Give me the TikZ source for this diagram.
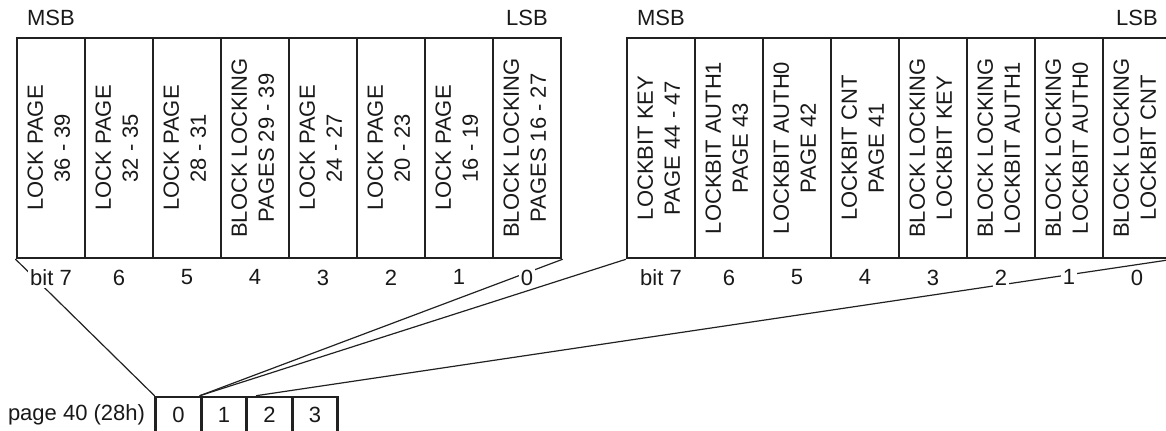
\documentclass[tikz,border=0pt]{standalone}
\usepackage{fontspec}
\setmainfont{Liberation Sans}
\usetikzlibrary{positioning,calc}
\definecolor{regline}{rgb}{0.13,0.13,0.13}
\definecolor{regtext}{rgb}{0.1,0.1,0.1}
\newcommand{\celltext}[2]{\rotatebox{90}{\begin{tabular}{@{}c@{}}#1\\#2\end{tabular}}}

\begin{document}
\begin{tikzpicture}[line cap=round,line join=miter,x=0.5pt,y=-0.5pt,
    font=\fontsize{11}{13.5}\selectfont,text=regtext,
    cell/.style={draw=regline,line width=1.35pt,minimum width=34pt,minimum height=110pt,inner sep=0pt},
    pagecell/.style={draw=regline,line width=1.35pt,minimum width=22.75pt,minimum height=18pt,inner sep=0pt},
    bitlabel/.style={fill=white,inner sep=1pt},
    endlabel/.style={inner sep=1pt},
    link/.style={line width=0.6pt,draw=regline}]
    \useasboundingbox (0,0) rectangle (1166,430);
    \node[cell] (l7) at (51,148) {\celltext{LOCK PAGE}{36 - 39}};
    \node[cell] (l6) at (119,148) {\celltext{LOCK PAGE}{32 - 35}};
    \node[cell] (l5) at (187,148) {\celltext{LOCK PAGE}{28 - 31}};
    \node[cell] (l4) at (255,148) {\celltext{BLOCK LOCKING}{PAGES 29 - 39}};
    \node[cell] (l3) at (323,148) {\celltext{LOCK PAGE}{24 - 27}};
    \node[cell] (l2) at (391,148) {\celltext{LOCK PAGE}{20 - 23}};
    \node[cell] (l1) at (459,148) {\celltext{LOCK PAGE}{16 - 19}};
    \node[cell] (l0) at (527,148) {\celltext{BLOCK LOCKING}{PAGES 16 - 27}};
    \node[cell] (r7) at (661,148) {\celltext{LOCKBIT KEY}{PAGE 44 - 47}};
    \node[cell] (r6) at (729,148) {\celltext{LOCKBIT AUTH1}{PAGE 43}};
    \node[cell] (r5) at (797,148) {\celltext{LOCKBIT AUTH0}{PAGE 42}};
    \node[cell] (r4) at (865,148) {\celltext{LOCKBIT CNT}{PAGE 41}};
    \node[cell] (r3) at (933,148) {\celltext{BLOCK LOCKING}{LOCKBIT KEY}};
    \node[cell] (r2) at (1001,148) {\celltext{BLOCK LOCKING}{LOCKBIT AUTH1}};
    \node[cell] (r1) at (1069,148) {\celltext{BLOCK LOCKING}{LOCKBIT AUTH0}};
    \node[cell] (r0) at (1137,148) {\celltext{BLOCK LOCKING}{LOCKBIT CNT}};
    \node[endlabel,above=4.5pt of l7] (lmsb) {MSB};
    \node[endlabel,above=4.5pt of l0] (llsb) {LSB};
    \node[endlabel,above=4.5pt of r7] (rmsb) {MSB};
    \node[endlabel,above=4.5pt of r0] (rlsb) {LSB};
    \node[pagecell] (p0) at (178.5,415) {0};
    \node[pagecell] (p1) at (224,415) {1};
    \node[pagecell] (p2) at (269.5,415) {2};
    \node[pagecell] (p3) at (315,415) {3};
    \node[inner sep=0pt,left=4.5pt of p0] (pagename) {page 40 (28h)};
    \coordinate (p2tap) at ($(p2.north west)+(11,0)$);
    \draw [link] (l7.south west) -- (p0.north west);
    \draw [link] (l0.south east) -- (p1.north west);
    \draw [link] (r7.south west) -- (p1.north west);
    \draw [link] (r0.south east) -- (p2tap);
    \node[bitlabel,below=4pt of l7] (lb7) {bit 7};
    \node[bitlabel,below=4pt of l6] (lb6) {6};
    \node[bitlabel,below=4pt of l5] (lb5) {5};
    \node[bitlabel,below=4pt of l4] (lb4) {4};
    \node[bitlabel,below=4pt of l3] (lb3) {3};
    \node[bitlabel,below=4pt of l2] (lb2) {2};
    \node[bitlabel,below=4pt of l1] (lb1) {1};
    \node[bitlabel,below=4pt of l0] (lb0) {0};
    \node[bitlabel,below=4pt of r7] (rb7) {bit 7};
    \node[bitlabel,below=4pt of r6] (rb6) {6};
    \node[bitlabel,below=4pt of r5] (rb5) {5};
    \node[bitlabel,below=4pt of r4] (rb4) {4};
    \node[bitlabel,below=4pt of r3] (rb3) {3};
    \node[bitlabel,below=4pt of r2] (rb2) {2};
    \node[bitlabel,below=4pt of r1] (rb1) {1};
    \node[bitlabel,below=4pt of r0] (rb0) {0};
\end{tikzpicture}
\end{document}
